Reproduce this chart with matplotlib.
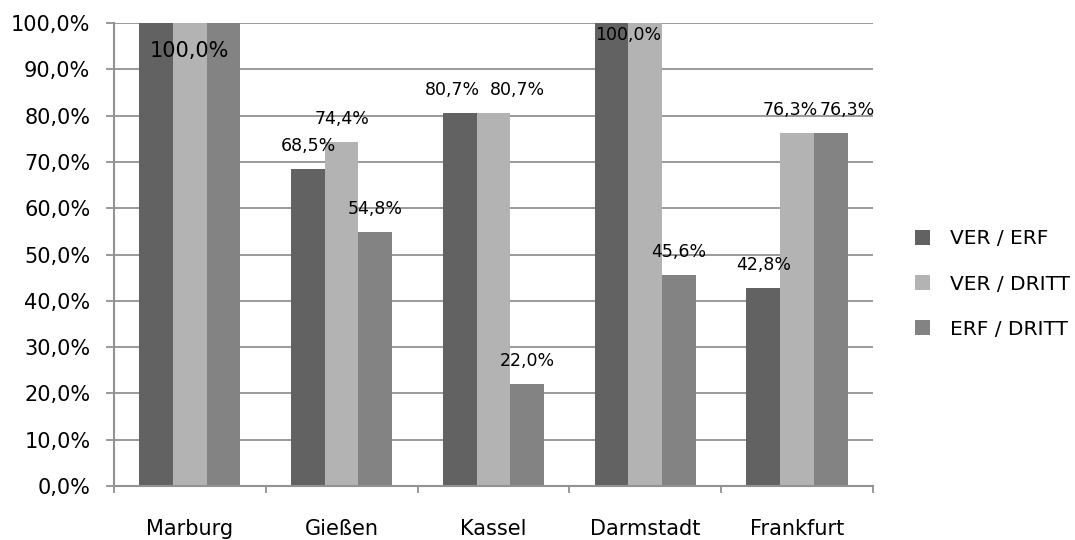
import numpy as np
import matplotlib
matplotlib.use('Agg')
import matplotlib.pyplot as plt
from matplotlib.ticker import FuncFormatter

plt.rcParams['font.family'] = ['DejaVu Sans']

cities = ['Marburg', 'Gießen', 'Kassel', 'Darmstadt', 'Frankfurt']
series_names = ['VER / ERF', 'VER / DRITT', 'ERF / DRITT']
ver_erf = [100.0, 68.5, 80.7, 100.0, 42.8]
ver_dritt = [100.0, 74.4, 80.7, 100.0, 76.3]
erf_dritt = [100.0, 54.8, 22.0, 45.6, 76.3]
colors = ['#626262', '#b3b3b3', '#838383']

def pct(v):
    return f'{v:.1f}%'.replace('.', ',')

fig = plt.figure(figsize=(10.75, 5.4), dpi=100)
ax = fig.add_axes([0.106, 0.1, 0.706, 0.857])

x = np.arange(len(cities))
w = 0.2222
grid_color = '#929292'
ax.set_axisbelow(True)
ax.yaxis.grid(True, color=grid_color, linewidth=1.3)

all_series = [ver_erf, ver_dritt, erf_dritt]
for i, (vals, col, name) in enumerate(zip(all_series, colors, series_names)):
    ax.bar(x + (i - 1) * w, np.array(vals) / 100, w, color=col, label=name)

# labels that were pushed sideways so they don't collide (series, city): dx in points
nudge = {(0, 2): -5, (1, 2): 17, (1, 4): -5, (2, 4): 12}

for i, vals in enumerate(all_series):
    for j, v in enumerate(vals):
        if v >= 100:
            continue
        ax.annotate(pct(v), (x[j] + (i - 1) * w, v / 100),
                    xytext=(nudge.get((i, j), 0), 16.5),
                    textcoords='offset points', ha='center', va='center',
                    fontsize=12.5)

# the 100 % labels sit inside the bars
ax.text(x[0], 0.94, pct(ver_erf[0]), ha='center', va='center', fontsize=15)
ax.text(x[3] - 0.5 * w, 0.975, pct(ver_erf[3]), ha='center', va='center',
        fontsize=12.5)

ax.set_ylim(0, 1)
ax.set_xlim(-0.5, len(cities) - 0.5)
ax.set_yticks(np.arange(0, 1.01, 0.1))
ax.yaxis.set_major_formatter(FuncFormatter(lambda v, p: pct(v * 100)))
ax.tick_params(axis='y', labelsize=15, length=6, width=1.3, color=grid_color,
               pad=11)

ax.set_xticks(np.arange(-0.5, len(cities)), labels=[])
ax.set_xticks(x, labels=cities, minor=True)
ax.tick_params(axis='x', which='major', length=5, width=1.3, color=grid_color)
ax.tick_params(axis='x', which='minor', length=0, labelsize=15, pad=24)

for s in ['top', 'right']:
    ax.spines[s].set_visible(False)
for s in ['left', 'bottom']:
    ax.spines[s].set_color(grid_color)
    ax.spines[s].set_linewidth(1.5)

ax.legend(loc='center left', bbox_to_anchor=(915 / 1075, 1 - 284 / 540),
          bbox_transform=fig.transFigure, frameon=False, borderpad=0,
          borderaxespad=0, fontsize=14.5, handlelength=0.75,
          handleheight=0.75, labelspacing=1.3, handletextpad=1.0)

fig.savefig('out.png', dpi=100)
